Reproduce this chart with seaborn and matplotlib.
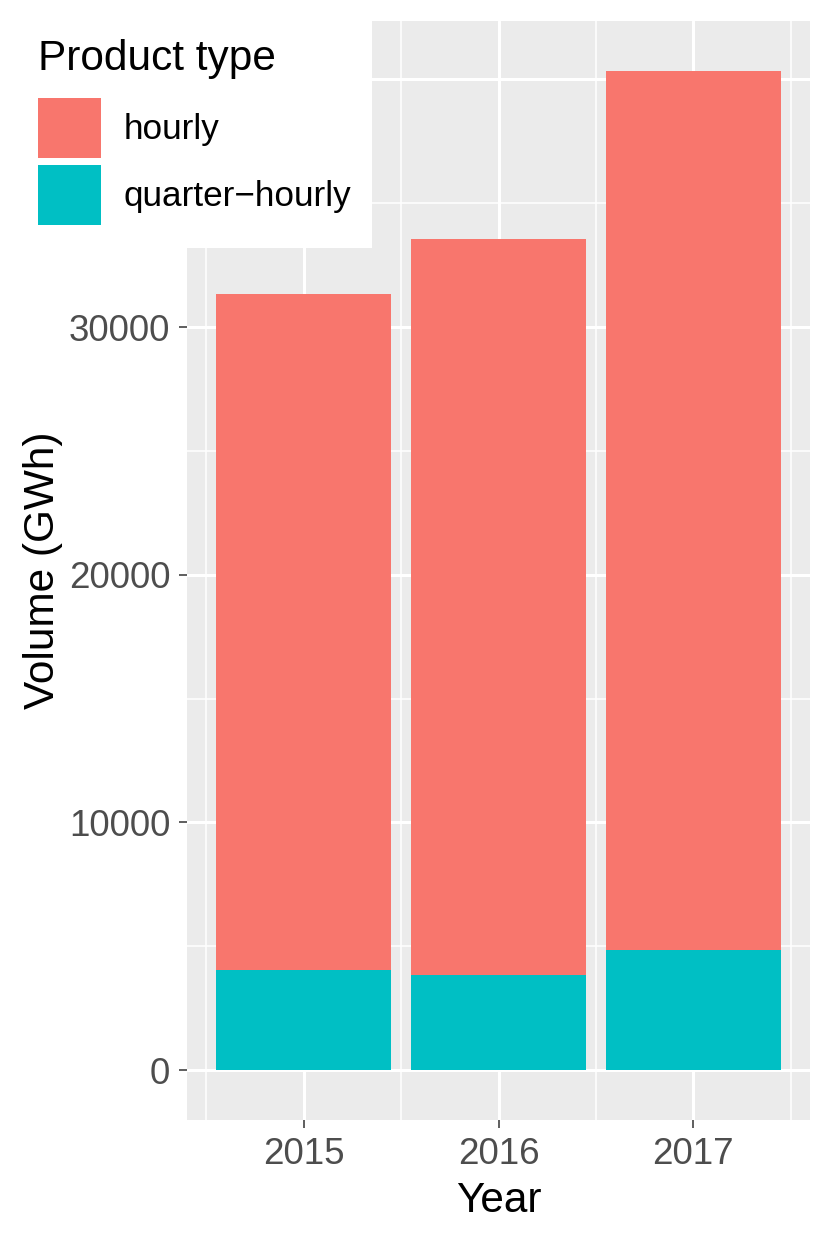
import matplotlib
matplotlib.use("Agg")
import matplotlib.pyplot as plt
import seaborn as sns
import pandas as pd
from matplotlib.patches import Patch, Rectangle
from matplotlib.ticker import FixedLocator

years = ["2015", "2016", "2017"]
hourly = [27300, 29700, 35500]
quarter_hourly = [4030, 3840, 4840]
series_names = ["hourly", "quarter\u2212hourly"]
colors = ["#F8766D", "#00BFC4"]
y_ticks = [0, 10000, 20000, 30000, 40000]
y_tick_labels = ["0", "10000", "20000", "30000", ""]  # 40000 hidden under legend

sns.set_theme(style="white")
plt.rcParams["font.family"] = ["Liberation Sans", "DejaVu Sans"]

df = pd.DataFrame({"Year": years, "hourly": hourly, "quarter": quarter_hourly})
df["total"] = df["hourly"] + df["quarter"]

fig = plt.figure(figsize=(8.3, 12.46), dpi=100)
ax = fig.add_axes([187/830, 1 - 1120/1246, (810-187)/830, (1120-21)/1246])
ax.set_facecolor("#EBEBEB")

sns.barplot(data=df, x="Year", y="total", color=colors[0], saturation=1,
            width=0.9, ax=ax, zorder=3, linewidth=0)
sns.barplot(data=df, x="Year", y="quarter", color=colors[1], saturation=1,
            width=0.9, ax=ax, zorder=3, linewidth=0)

top = df["total"].max()
ax.set_ylim(-0.05 * top, top * 1.05)
ax.set_xlim(-0.6, 2.6)
ax.yaxis.set_major_locator(FixedLocator(y_ticks))
ax.set_yticklabels(y_tick_labels)
ax.yaxis.set_minor_locator(FixedLocator([5000, 15000, 25000, 35000]))
ax.xaxis.set_minor_locator(FixedLocator([-0.5, 0.5, 1.5, 2.5]))

ax.grid(which="major", color="white", linewidth=2.2, zorder=1)
ax.grid(which="minor", color="white", linewidth=1.1, zorder=1)
ax.set_axisbelow(True)
for s in ax.spines.values():
    s.set_visible(False)

ax.tick_params(axis="both", which="major", length=6, width=1.1, color="#333333",
               labelcolor="#4D4D4D", labelsize=26.5, pad=6, left=True, bottom=True)
ax.tick_params(axis="both", which="minor", length=0)

ax.set_xlabel("Year", fontsize=30.5, color="black", labelpad=7)
ax.set_ylabel("Volume (GWh)", fontsize=30.5, color="black", labelpad=4)

# legend background
fig.patches.append(Rectangle((0, 1 - 248/1246), 372/830, 248/1246,
                             transform=fig.transFigure, facecolor="white",
                             edgecolor="none", zorder=4))
handles = [Patch(facecolor=c, edgecolor="none") for c in colors]
leg = fig.legend(handles, series_names, title="Product type", loc="upper left",
                 bbox_to_anchor=(38/830, 1 - 39/1246), frameon=False,
                 fontsize=25.3, title_fontsize=30.5, handlelength=1.79, handleheight=2.28,
                 labelspacing=0.18, handletextpad=0.65, borderpad=0, borderaxespad=0,
                 alignment="left", labelcolor="black")
leg.get_title().set_color("black")
leg._legend_box.sep = 13.5
leg.set_zorder(5)

fig.savefig("out.png", dpi=100)
